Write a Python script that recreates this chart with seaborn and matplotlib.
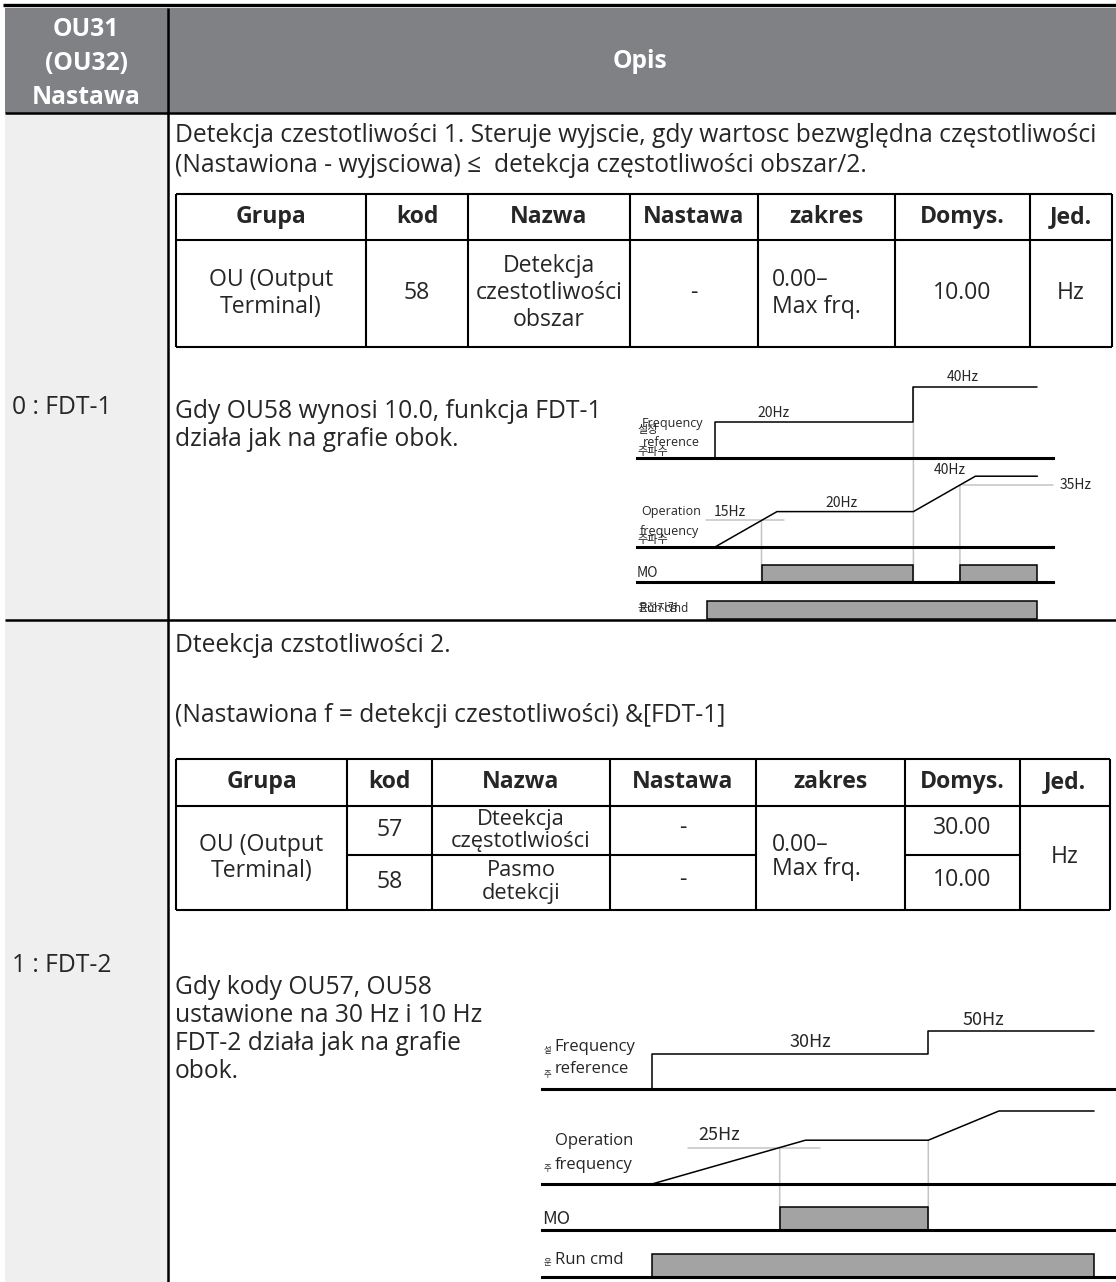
import matplotlib
matplotlib.use("Agg")
import matplotlib.pyplot as plt
from matplotlib.patches import Rectangle, ConnectionPatch
import seaborn as sns

# ---------------- table content ----------------
head_left = ["OU31", "(OU32)", "Nastawa"]
head_right = "Opis"
setting_labels = ["0 : FDT-1", "1 : FDT-2"]
col_names = ["Grupa", "kod", "Nazwa", "Nastawa", "zakres", "Domys.", "Jed."]

fdt1_text = ["Detekcja czestotliwości 1. Steruje wyjscie, gdy wartosc bezwględna częstotliwości",
             "(Nastawiona - wyjsciowa) \u2264  detekcja częstotliwości obszar/2."]
fdt1_group = ["OU (Output", "Terminal)"]
fdt1_code = "58"
fdt1_name = ["Detekcja", "czestotliwości", "obszar"]
fdt1_setting = "-"
fdt1_range = ["0.00–", "Max frq."]
fdt1_default = "10.00"
fdt1_unit = "Hz"
fdt1_note = ["Gdy OU58 wynosi 10.0, funkcja FDT-1", "działa jak na grafie obok."]

fdt2_text = ["Dteekcja czstotliwości 2.", "(Nastawiona f = detekcji czestotliwości) &[FDT-1]"]
fdt2_group = ["OU (Output", "Terminal)"]
fdt2_codes = ["57", "58"]
fdt2_names = [["Dteekcja", "częstotlwiości"], ["Pasmo", "detekcji"]]
fdt2_settings = ["-", "-"]
fdt2_range = ["0.00–", "Max frq."]
fdt2_defaults = ["30.00", "10.00"]
fdt2_unit = "Hz"
fdt2_note = ["Gdy kody OU57, OU58", "ustawione na 30 Hz i 10 Hz",
             "FDT-2 działa jak na grafie", "obok."]

# ---------------- timing data (time in s, frequency in Hz) ----------------
fdt1_ref_t = [0, 0, 3.2, 3.2, 5.2]
fdt1_ref_f = [0, 20, 20, 40, 40]
fdt1_op_t = [0, 1.0, 3.2, 4.2, 5.2]
fdt1_op_f = [0, 20, 20, 40, 40]
fdt1_levels = [15, 35]
fdt1_mo_on = [0.75, 3.95]
fdt1_mo_off = [3.2, 5.2]
fdt1_run = [-0.13, 5.2]

fdt2_ref_t = [0, 0, 4.5, 4.5, 7.2]
fdt2_ref_f = [0, 30, 30, 50, 50]
fdt2_op_t = [0, 2.5, 4.5, 5.65, 7.2]
fdt2_op_f = [0, 30, 30, 50, 50]
fdt2_level = 25
fdt2_mo_on = [2.08]
fdt2_mo_off = [4.5]
fdt2_run = [0, 7.2]

# ---------------- page ----------------
W, H = 1116, 1282
sns.set_theme(style="white")
plt.rcParams['font.family'] = ['Open Sans', 'Noto Sans CJK KR', 'DejaVu Sans']
KR = ['Noto Sans CJK KR', 'DejaVu Sans']

fig = plt.figure(figsize=(W / 100, H / 100), dpi=100)
fig.patch.set_facecolor('white')
page = fig.add_axes([0, 0, 1, 1], zorder=5)
page.set_xlim(0, W)
page.set_ylim(H, 0)
page.axis('off')
renderer = fig.canvas.get_renderer()

probe = page.text(0, 0, fdt1_text[0], fontsize=14)
fs = 14 * 927 / probe.get_window_extent(renderer).width
probe.remove()
fs_cell = fs * 0.93


def hline(y, x0, x1, lw=1.5, c='black'):
    page.plot([x0, x1], [y, y], color=c, lw=lw, solid_capstyle='butt')


def vline(x, y0, y1, lw=1.5, c='black'):
    page.plot([x, x], [y0, y1], color=c, lw=lw, solid_capstyle='butt')


def txt(x, y, s, ha='left', **kw):
    kw.setdefault('fontsize', fs)
    page.text(x, y, s, ha=ha, va='center', **kw)


def cell(x, y, s, ha='center', **kw):
    kw.setdefault('fontsize', fs_cell)
    txt(x, y, s, ha=ha, **kw)


# header band and left column
page.add_patch(Rectangle((5, 8), W - 5, 105, color='#808185', lw=0))
page.add_patch(Rectangle((5, 113), 163, H - 113, color='#efefef', lw=0))
hline(5, 3, W, lw=2.4)
hline(113, 5, W, lw=1.8)
hline(620, 5, W, lw=1.8)
vline(168, 8, H, lw=1.8)
for y, s in zip([30, 63, 97], head_left):
    txt(86, y, s, ha='center', color='white', fontweight='bold')
txt(640, 62, head_right, ha='center', color='white', fontweight='bold')

txt(12, 408, setting_labels[0])
txt(12, 965, setting_labels[1])

# ---------------- row 0 : FDT-1 ----------------
txt(175, 135, fdt1_text[0])
txt(175, 165, fdt1_text[1])

c1 = [176, 366, 468, 630, 758, 895, 1030, 1112]
t1, h1, b1 = 194, 240, 347
for y in (t1, h1, b1):
    hline(y, c1[0], c1[-1])
for x in c1:
    vline(x, t1, b1)
mid = lambda c, i: (c[i] + c[i + 1]) / 2
for i, s in enumerate(col_names):
    cell(mid(c1, i), (t1 + h1) / 2, s, fontweight='bold')
for y, s in zip([280, 307], fdt1_group):
    cell(mid(c1, 0), y, s)
cell(mid(c1, 1), 293, fdt1_code)
for y, s in zip([266, 293, 320], fdt1_name):
    cell(mid(c1, 2), y, s)
cell(mid(c1, 3), 293, fdt1_setting)
for y, s in zip([280, 307], fdt1_range):
    cell(c1[4] + 14, y, s, ha='left')
cell(mid(c1, 5), 293, fdt1_default)
cell(mid(c1, 6), 293, fdt1_unit)

for y, s in zip([412, 440], fdt1_note):
    txt(175, y, s)

# ---------------- row 1 : FDT-2 ----------------
txt(175, 645, fdt2_text[0])
txt(175, 715, fdt2_text[1])

c2 = [176, 347, 432, 610, 756, 905, 1020, 1110]
t2, h2, m2, b2 = 759, 806, 855, 910
for y in (t2, h2, b2):
    hline(y, c2[0], c2[-1])
hline(m2, c2[1], c2[4])
hline(m2, c2[5], c2[6])
for x in c2:
    vline(x, t2, b2)
for i, s in enumerate(col_names):
    cell(mid(c2, i), (t2 + h2) / 2, s, fontweight='bold')
for y, s in zip([845, 871], fdt2_group):
    cell(mid(c2, 0), y, s)
for k, yc in enumerate([830, 882]):
    cell(mid(c2, 1), yc, fdt2_codes[k])
    cell(mid(c2, 3), yc - 2, fdt2_settings[k])
    cell(mid(c2, 5), yc - 2, fdt2_defaults[k])
for ys, names in zip([[819, 842], [871, 894]], fdt2_names):
    for y, s in zip(ys, names):
        cell(mid(c2, 2), y, s, fontsize=fs * 0.88)
for y, s in zip([845, 869], fdt2_range):
    cell(c2[4] + 16, y, s, ha='left')
cell(mid(c2, 6), 857, fdt2_unit)

for y, s in zip([988, 1016, 1044, 1072], fdt2_note):
    txt(175, y, s)


# ---------------- timing diagrams ----------------
def trace_ax(x0, x1, tlim, y_base, px_unit, top, spine=True):
    h = px_unit * top
    ax = fig.add_axes([x0 / W, 1 - y_base / H, (x1 - x0) / W, h / H])
    ax.set_xlim(*tlim)
    ax.set_ylim(0, top)
    ax.set_facecolor('none')
    ax.set_xticks([])
    ax.set_yticks([])
    for s in ['top', 'left', 'right']:
        ax.spines[s].set_visible(False)
    ax.spines['bottom'].set_visible(spine)
    ax.spines['bottom'].set_color('black')
    ax.spines['bottom'].set_linewidth(2.2)
    return ax


def trace(ax, t, f):
    sns.lineplot(x=t, y=f, ax=ax, color='black', linewidth=1.1,
                 estimator=None, sort=False)
    for ln in ax.lines:
        ln.set_clip_on(False)


def pulses(ax, ons, offs):
    for a, b in zip(ons, offs):
        ax.add_patch(Rectangle((a, 0), b - a, 1, facecolor='#a3a3a3',
                               edgecolor='black', lw=1.1, clip_on=False))


def guide(ax_a, y_a, ax_b, t):
    con = ConnectionPatch(xyA=(t, y_a), coordsA=ax_a.transData,
                          xyB=(t, 0), coordsB=ax_b.transData,
                          color='#c4c4c4', lw=1.1, zorder=-1)
    fig.add_artist(con)


def level(ax, f, ta, tb):
    ax.plot([ta, tb], [f, f], color='#c4c4c4', lw=1.1, zorder=0, clip_on=False)


# FDT-1 diagram (1 s = 62 px, t = 0 at x = 715)
lim1 = ((637 - 715) / 62, (1053 - 715) / 62)
a_ref = trace_ax(637, 1053, lim1, 458, 1.78, 45)
a_op = trace_ax(637, 1053, lim1, 547, 1.77, 45)
a_mo = trace_ax(637, 1053, lim1, 582, 17, 1)
a_run = trace_ax(637, 1053, lim1, 619, 18, 1, spine=False)
level(a_op, fdt1_levels[0], -0.15, 1.11)
level(a_op, fdt1_levels[1], 4.0, lim1[1])
trace(a_ref, fdt1_ref_t, fdt1_ref_f)
trace(a_op, fdt1_op_t, fdt1_op_f)
pulses(a_mo, fdt1_mo_on, fdt1_mo_off)
pulses(a_run, [fdt1_run[0]], [fdt1_run[1]])
guide(a_op, fdt1_levels[0], a_mo, fdt1_mo_on[0])
guide(a_ref, fdt1_ref_f[-1], a_mo, fdt1_mo_off[0])
guide(a_op, fdt1_levels[1], a_mo, fdt1_mo_on[1])

lab1 = dict(fontsize=10, family=KR)
txt(963, 377, "40Hz", ha='center', **lab1)
txt(773, 413, "20Hz", ha='center', **lab1)
txt(950, 470, "40Hz", ha='center', **lab1)
txt(842, 503, "20Hz", ha='center', **lab1)
txt(730, 512, "15Hz", ha='center', **lab1)
txt(1076, 485, "35Hz", ha='center', **lab1)
txt(637, 573, "MO", **lab1)
txt(642, 423, "Frequency", fontsize=9)
txt(643, 442, "reference", fontsize=9)
txt(641, 512, "Operation", fontsize=9)
txt(640, 532, "frequency", fontsize=9)
kr1 = dict(fontsize=8, family=KR, color='#222222')
txt(637, 430, "설정", **kr1)
txt(637, 452, "주파수", **kr1)
txt(637, 540, "주파수", **kr1)
txt(637, 608, "운전지령", **kr1)
txt(640, 608, "Run cmd", fontsize=8.5)

# FDT-2 diagram (1 s = 61.4 px, t = 0 at x = 652)
lim2 = ((542 - 652) / 61.4, (1116 - 652) / 61.4)
b_ref = trace_ax(542, 1116, lim2, 1089, 1.166, 60)
b_op = trace_ax(542, 1116, lim2, 1184, 1.46, 55)
b_mo = trace_ax(542, 1116, lim2, 1230, 23, 1)
b_run = trace_ax(542, 1116, lim2, 1277, 23, 1)
level(b_op, fdt2_level, 0.59, 2.74)
trace(b_ref, fdt2_ref_t, fdt2_ref_f)
trace(b_op, fdt2_op_t, fdt2_op_f)
pulses(b_mo, fdt2_mo_on, fdt2_mo_off)
pulses(b_run, [fdt2_run[0]], [fdt2_run[1]])
guide(b_op, fdt2_level, b_mo, fdt2_mo_on[0])
guide(b_op, fdt2_op_f[2], b_mo, fdt2_mo_off[0])

lab2 = dict(fontsize=13, family=KR)
txt(983, 1020, "50Hz", ha='center', **lab2)
txt(810, 1042, "30Hz", ha='center', **lab2)
txt(719, 1135, "25Hz", ha='center', **lab2)
txt(542, 1219, "MO", **lab2)
txt(554, 1047, "Frequency", fontsize=12)
txt(555, 1069, "reference", fontsize=12)
txt(555, 1141, "Operation", fontsize=12)
txt(555, 1165, "frequency", fontsize=12)
txt(555, 1260, "Run cmd", fontsize=12)
kr2 = dict(fontsize=6, family=KR, color='#222222')
txt(544, 1051, "설", **kr2)
txt(544, 1074, "주", **kr2)
txt(544, 1169, "주", **kr2)
txt(544, 1263, "운", **kr2)

fig.savefig('out.png', dpi=100)
